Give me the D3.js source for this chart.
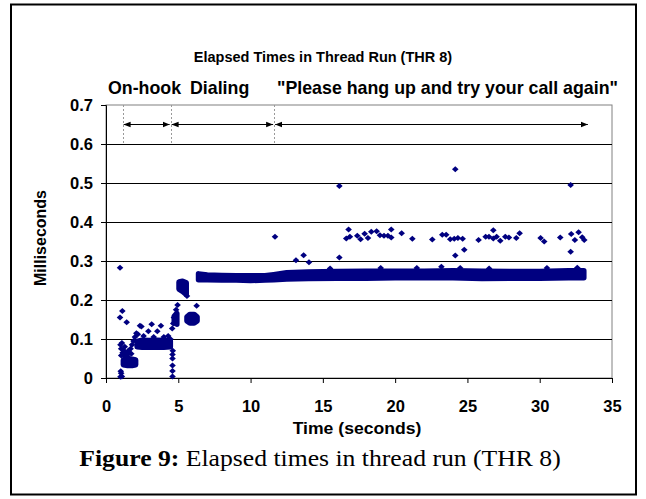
<!DOCTYPE html>
<html>
<head>
<meta charset="utf-8">
<script src="https://cdn.jsdelivr.net/npm/d3@7"></script>
<style>
  body { margin: 0; background: #fff; }
  svg { display: block; }
  text { font-family: "Liberation Sans", Arial, sans-serif; font-weight: bold; fill: #000; }
</style>
</head>
<body>
<div id="plot"></div>
<script>
// axis ticks
const xTicks = [0, 5, 10, 15, 20, 25, 30, 35];
const yTicks = [0, 0.1, 0.2, 0.3, 0.4, 0.5, 0.6, 0.7];

// phase boundaries (seconds) and labels
const phaseT = [1.15, 4.47, 11.63, 33.4];
const phaseLabels = ["On-hook", "Dialing", "\"Please hang up and try your call again\""];

// dense clouds of points, read as [time, lowest, highest]
const cloudOnhookLow = [[1.2, 0.034, 0.046], [1.5, 0.032, 0.048], [1.8, 0.032, 0.048], [2.05, 0.034, 0.046]];
const cloudOnhook = [[2.15, 0.08, 0.094], [2.5, 0.079, 0.097], [3.0, 0.079, 0.096], [3.5, 0.079, 0.097], [4.0, 0.079, 0.096], [4.45, 0.08, 0.095]];
const cloudDialA = [[4.72, 0.142, 0.158], [4.9, 0.138, 0.166]];
const cloudDialB = [[5.05, 0.228, 0.246], [5.3, 0.222, 0.248], [5.55, 0.214, 0.244]];
const cloudDialC = [[5.6, 0.146, 0.157], [5.8, 0.141, 0.163], [6.1, 0.141, 0.163], [6.3, 0.146, 0.157]];
const cloudMain = [[6.4, 0.252, 0.267], [7, 0.252, 0.264], [8, 0.251, 0.263], [9, 0.251, 0.262], [10, 0.25, 0.262],
  [11, 0.251, 0.262], [11.6, 0.252, 0.265], [12.5, 0.254, 0.27], [14, 0.255, 0.272], [16, 0.256, 0.273],
  [18, 0.256, 0.274], [20, 0.257, 0.274], [22, 0.257, 0.274], [24, 0.257, 0.275], [26, 0.255, 0.274],
  [28, 0.256, 0.273], [30, 0.256, 0.273], [32, 0.257, 0.275], [33.05, 0.257, 0.275]];

// single points [time, ms]
const points = [
  [0.97, 0.283], [0.97, 0.155], [1.13, 0.172], [1.43, 0.143],
  [1.0, 0.003], [1.05, 0.012], [1.1, 0.004], [1.02, 0.017],
  [1.0, 0.085], [1.05, 0.075], [1.1, 0.09], [1.15, 0.065], [1.25, 0.07], [1.3, 0.08], [1.4, 0.06],
  [1.5, 0.055], [1.6, 0.065], [1.7, 0.075], [1.8, 0.085], [1.9, 0.095], [1.2, 0.058], [1.55, 0.07],
  [1.35, 0.065], [1.75, 0.062], [1.05, 0.058],
  [2.0, 0.105], [2.1, 0.115], [2.2, 0.112], [2.35, 0.134], [2.45, 0.132], [2.6, 0.108], [2.93, 0.12],
  [3.16, 0.138], [3.3, 0.105], [3.55, 0.12], [3.8, 0.134], [4.0, 0.105], [4.3, 0.108], [4.45, 0.1],
  [4.6, 0.004], [4.6, 0.018], [4.6, 0.032], [4.6, 0.05], [4.6, 0.06], [4.58, 0.127], [4.62, 0.07],
  [4.95, 0.187], [4.7, 0.155], [4.65, 0.14], [4.85, 0.175], [6.27, 0.185], [5.6, 0.21],
  [11.69, 0.362], [13.14, 0.302], [13.67, 0.315], [14.04, 0.297], [16.14, 0.492], [16.14, 0.309],
  [16.62, 0.358], [16.78, 0.381], [16.87, 0.362], [17.38, 0.365], [17.61, 0.356], [17.89, 0.37],
  [18.12, 0.359], [18.35, 0.375], [18.72, 0.376], [18.95, 0.366], [19.23, 0.365], [19.5, 0.365],
  [19.73, 0.381], [19.73, 0.36], [20.45, 0.371], [21.19, 0.357], [22.57, 0.355], [23.26, 0.367],
  [23.53, 0.367], [23.81, 0.356], [24.09, 0.357], [24.34, 0.359], [24.67, 0.357], [24.16, 0.535],
  [24.16, 0.314], [24.78, 0.329], [25.77, 0.354], [26.26, 0.362], [26.49, 0.362], [26.79, 0.379],
  [26.79, 0.358], [27.02, 0.362], [27.27, 0.352], [27.62, 0.362], [27.87, 0.36], [28.38, 0.359],
  [28.61, 0.371], [30.06, 0.359], [30.31, 0.35], [31.42, 0.36], [32.14, 0.495], [32.14, 0.324],
  [32.18, 0.369], [32.43, 0.354], [32.69, 0.374], [32.94, 0.361], [33.08, 0.354],
  [15.5, 0.281], [19.0, 0.282], [21.5, 0.282], [23.2, 0.285], [24.5, 0.282], [26.5, 0.281],
  [30.5, 0.282], [32.6, 0.283]
];

const W = 646, H = 499;
const plotLeft = 106, plotRight = 612, plotTop = 105, plotBottom = 378;
const navy = "#000080";

const svg = d3.select("#plot").append("svg")
  .attr("width", W)
  .attr("height", H);

// outer frame
svg.append("rect")
  .attr("x", 11).attr("y", 4.5)
  .attr("width", 625).attr("height", 490)
  .attr("fill", "none").attr("stroke", "#000").attr("stroke-width", 2);

const x = d3.scaleLinear().domain([0, 35]).range([plotLeft, plotRight]);
const y = d3.scaleLinear().domain([0, 0.7]).range([plotBottom, plotTop]);

// plot area border
svg.append("rect")
  .attr("x", plotLeft).attr("y", plotTop)
  .attr("width", plotRight - plotLeft).attr("height", plotBottom - plotTop)
  .attr("fill", "none").attr("stroke", "#808080");

// gridlines
svg.append("g").selectAll("line")
  .data(yTicks.filter(d => d > 0 && d < 0.7))
  .join("line")
    .attr("x1", plotLeft).attr("x2", plotRight)
    .attr("y1", d => Math.round(y(d)) + 0.5).attr("y2", d => Math.round(y(d)) + 0.5)
    .attr("stroke", "#000");

// axes
const yAxis = svg.append("g")
  .attr("transform", `translate(${plotLeft},0)`)
  .call(d3.axisLeft(y).tickValues(yTicks).tickSize(5).tickPadding(8)
    .tickFormat(d => d === 0 ? "0" : d3.format(".1f")(d)));
const xAxis = svg.append("g")
  .attr("transform", `translate(0,${plotBottom})`)
  .call(d3.axisBottom(x).tickValues(xTicks).tickSize(5).tickPadding(17));
[yAxis, xAxis].forEach(g => {
  g.selectAll("path, line").attr("stroke", "#000");
  g.selectAll("text").style("font-size", "16.5px").style("font-family", "Liberation Sans, Arial, sans-serif")
    .style("font-weight", "bold");
});

// dense clouds drawn as filled envelopes, widened by the marker size
const area = d3.area()
  .x(d => x(d[0]))
  .y0(d => y(d[1]))
  .y1(d => y(d[2]));
const clouds = [cloudOnhookLow, cloudOnhook, cloudDialA, cloudDialB, cloudDialC, cloudMain];
svg.append("g").selectAll("path")
  .data(clouds)
  .join("path")
    .attr("d", area)
    .attr("fill", navy)
    .attr("stroke", navy)
    .attr("stroke-width", 5.5)
    .attr("stroke-linejoin", "round");

// single points as diamonds
svg.append("g").selectAll("path")
  .data(points)
  .join("path")
    .attr("d", "M0,-3L3.3,0L0,3L-3.3,0Z")
    .attr("transform", d => `translate(${x(d[0])},${y(d[1])})`)
    .attr("fill", navy);

// phase markers
svg.append("defs").append("marker")
  .attr("id", "head")
  .attr("viewBox", "0 0 10 10")
  .attr("refX", 10).attr("refY", 5)
  .attr("markerWidth", 7).attr("markerHeight", 7)
  .attr("markerUnits", "userSpaceOnUse")
  .attr("orient", "auto-start-reverse")
  .append("path")
    .attr("d", "M0,1L10,5L0,9Z")
    .attr("fill", "#000");

svg.append("g").selectAll("line")
  .data(phaseT.slice(0, 3))
  .join("line")
    .attr("x1", d => Math.round(x(d)) + 0.5).attr("x2", d => Math.round(x(d)) + 0.5)
    .attr("y1", y(0.7)).attr("y2", y(0.6))
    .attr("stroke", "#999")
    .attr("stroke-dasharray", "2,2");

svg.append("g").selectAll("line")
  .data(d3.pairs(phaseT))
  .join("line")
    .attr("x1", d => x(d[0]) + 1).attr("x2", d => x(d[1]) - 1)
    .attr("y1", 124.5).attr("y2", 124.5)
    .attr("stroke", "#000")
    .attr("marker-start", "url(#head)")
    .attr("marker-end", "url(#head)");

const labelX = [108, 190, 277];
svg.append("g").selectAll("text")
  .data(phaseLabels)
  .join("text")
    .attr("x", (d, i) => labelX[i])
    .attr("y", 94)
    .style("font-size", "17.8px")
    .text(d => d);

// titles
svg.append("text")
  .attr("x", 323).attr("y", 62)
  .attr("text-anchor", "middle")
  .style("font-size", "14.5px")
  .text("Elapsed Times in Thread Run (THR 8)");

svg.append("text")
  .attr("transform", `translate(${(plotLeft + plotRight) / 2 - 2},434) scale(1.1,1)`)
  .attr("text-anchor", "middle")
  .style("font-size", "16px")
  .text("Time (seconds)");

svg.append("text")
  .attr("transform", "translate(46,238) rotate(-90)")
  .attr("text-anchor", "middle")
  .style("font-size", "16px")
  .text("Milliseconds");

// figure caption
const cap = svg.append("text")
  .attr("transform", "translate(320,466) scale(1.07,1)")
  .attr("text-anchor", "middle")
  .style("font-family", "Liberation Serif, 'Times New Roman', serif")
  .style("font-weight", "normal")
  .style("font-size", "24px");
cap.append("tspan").style("font-weight", "bold").text("Figure 9:");
cap.append("tspan").text(" Elapsed times in thread run (THR 8)");
</script>
</body>
</html>
